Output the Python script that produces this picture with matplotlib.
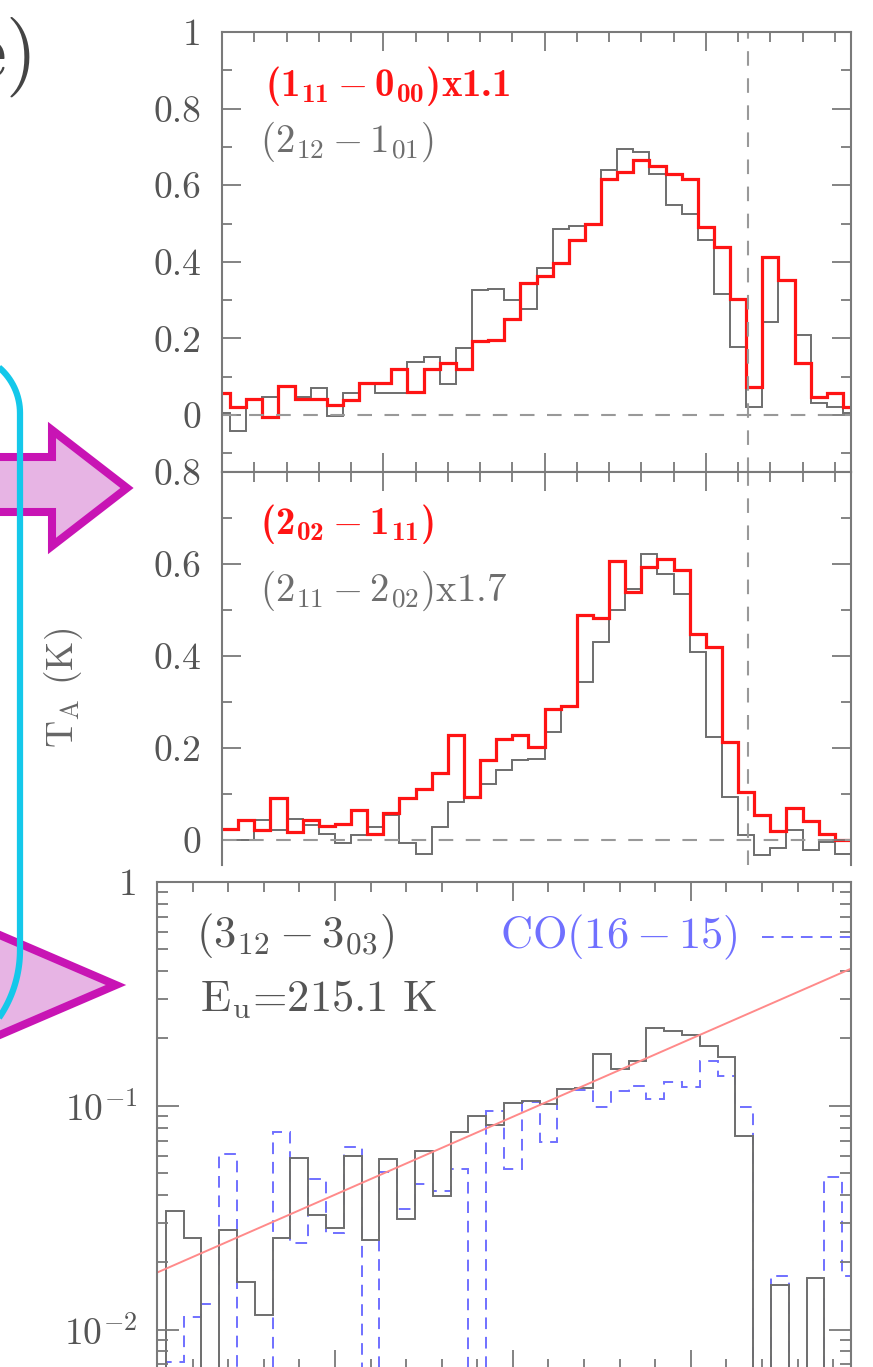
import numpy as np
import matplotlib.pyplot as plt
from matplotlib import ticker
from matplotlib.patches import Polygon

plt.rcParams['font.family'] = ['cmr10', 'DejaVu Serif']
plt.rcParams['mathtext.fontset'] = 'custom'
plt.rcParams['mathtext.rm'] = 'cmr10'
plt.rcParams['mathtext.it'] = 'cmmi10'
plt.rcParams['mathtext.bf'] = 'cmb10'
plt.rcParams['mathtext.fallback'] = 'cm'
plt.rcParams['axes.formatter.use_mathtext'] = True
plt.rcParams['axes.unicode_minus'] = False

# velocity channels in km/s (1 km/s wide)
edges_half = np.arange(-30.5, 9.6, 1.0)   # channels centred on integers
edges_int = np.arange(-30.0, 9.1, 1.0)    # channels centred on half integers
vlsr = 2.6

# top panel: o-H2O 1_11-0_00 (x1.1) and 2_12-1_01
t_111 = [0.057, 0.022, 0.041, -0.006, 0.076, 0.043, 0.043, 0.026, 0.039, 0.083,
         0.083, 0.119, 0.061, 0.119, 0.135, 0.119, 0.194, 0.197, 0.252, 0.345,
         0.363, 0.396, 0.458, 0.498, 0.617, 0.635, 0.667, 0.650, 0.630, 0.617,
         0.491, 0.439, 0.304, 0.074, 0.413, 0.352, 0.135, 0.048, 0.058, 0.022]
t_212 = [0.004, -0.043, 0.043, 0.048, 0.074, 0.048, 0.070, -0.004, 0.057, 0.083,
         0.057, 0.057, 0.139, 0.152, 0.081, 0.174, 0.326, 0.330, 0.300, 0.278,
         0.383, 0.487, 0.493, 0.498, 0.639, 0.696, 0.687, 0.630, 0.548, 0.526,
         0.457, 0.317, 0.178, 0.022, 0.243, 0.352, 0.209, 0.030, 0.022, 0.004]

# middle panel: p-H2O 2_02-1_11 and 2_11-2_02 (x1.7)
t_202 = [0.025, 0.043, 0.022, 0.091, 0.018, 0.043, 0.030, 0.036, 0.065, 0.014,
         0.058, 0.091, 0.112, 0.145, 0.228, 0.094, 0.175, 0.221, 0.228, 0.203,
         0.286, 0.291, 0.489, 0.482, 0.608, 0.539, 0.594, 0.612, 0.587, 0.449,
         0.420, 0.214, 0.105, 0.054, 0.020, 0.071, 0.042, 0.013, 0.001]
t_211 = [0.001, 0.000, 0.043, 0.023, 0.047, 0.033, 0.014, -0.007, 0.011, 0.029,
         0.054, -0.007, -0.029, 0.029, 0.083, 0.094, 0.123, 0.152, 0.174, 0.177,
         0.235, 0.290, 0.344, 0.431, 0.500, 0.547, 0.623, 0.579, 0.536, 0.409,
         0.224, 0.094, 0.011, -0.033, -0.018, 0.023, -0.022, -0.004, -0.029]

# bottom panel (log): p-H2O 3_12-3_03 and CO(16-15); 0.001 = below the plotted range
t_312 = [0.001, 0.0339, 0.0257, 0.001, 0.028, 0.0164, 0.0117, 0.0257, 0.0587, 0.0327,
         0.0285, 0.0597, 0.0253, 0.058, 0.0313, 0.063, 0.0396, 0.0766, 0.090, 0.082,
         0.103, 0.105, 0.102, 0.119, 0.120, 0.170, 0.146, 0.159, 0.223, 0.216,
         0.207, 0.185, 0.166, 0.0735, 0.001, 0.0159, 0.001, 0.017, 0.001, 0.001]
t_co = [0.001, 0.0072, 0.0114, 0.013, 0.0608, 0.001, 0.001, 0.0765, 0.0244, 0.047,
        0.027, 0.0658, 0.001, 0.0507, 0.0347, 0.0449, 0.0417, 0.0524, 0.001, 0.095,
        0.0524, 0.104, 0.0689, 0.119, 0.118, 0.099, 0.117, 0.123, 0.107, 0.128,
        0.122, 0.159, 0.136, 0.099, 0.001, 0.0173, 0.001, 0.001, 0.048, 0.0173]
fit_v = [-30, 9]
fit_t = [0.018, 0.41]

W, H = 873, 1367
fig = plt.figure(figsize=(W / 100, H / 100), dpi=100)


def box(l, t, r, b):
    return [l / W, 1 - b / H, (r - l) / W, (b - t) / H]


gray = '#6e6e6e'
red = '#ff1414'
blue = '#7070ff'
axc = '#7a7a7a'


def style(ax, pad=15):
    for s in ax.spines.values():
        s.set_color(axc)
        s.set_linewidth(1.5)
    ax.tick_params(which='both', direction='in', top=True, right=True,
                   color=axc, width=1.3, labelbottom=False, labelsize=27,
                   labelcolor='#555555', pad=pad)
    ax.tick_params(which='major', length=14)
    ax.tick_params(which='minor', length=7)
    ax.xaxis.set_major_locator(ticker.MultipleLocator(10))
    ax.xaxis.set_minor_locator(ticker.MultipleLocator(2))
    ax.set_xlim(-30, 9)


lin_fmt = ticker.FuncFormatter(lambda v, p: f'{round(v, 3):g}')

# top panel
ax1 = fig.add_axes(box(222, 32, 851, 472))
style(ax1)
ax1.axhline(0, color='#999999', lw=1.5, ls=(0, (7, 6)))
ax1.axvline(vlsr, color='#999999', lw=1.5, ls=(0, (7, 6)))
ax1.stairs(t_212, edges_half, baseline=None, color=gray, lw=1.4)
ax1.stairs(t_111, edges_half, baseline=None, color=red, lw=2.3)
ax1.set_ylim(-0.149, 1.0005)
ax1.yaxis.set_major_locator(ticker.MultipleLocator(0.2))
ax1.yaxis.set_minor_locator(ticker.MultipleLocator(0.1))
ax1.yaxis.set_major_formatter(lin_fmt)

# middle panel
ax2 = fig.add_axes(box(222, 472, 851, 865))
style(ax2)
ax2.spines['bottom'].set_visible(False)
ax2.tick_params(which='both', bottom=False)
ax2.axhline(0, color='#999999', lw=1.5, ls=(0, (7, 6)))
ax2.axvline(vlsr, color='#999999', lw=1.5, ls=(0, (7, 6)))
ax2.stairs(t_211, edges_int, baseline=None, color=gray, lw=1.4)
ax2.stairs(t_202, edges_int, baseline=None, color=red, lw=2.3)
ax2.set_ylim(-0.054, 0.8005)
ax2.yaxis.set_major_locator(ticker.MultipleLocator(0.2))
ax2.yaxis.set_minor_locator(ticker.MultipleLocator(0.1))
ax2.yaxis.set_major_formatter(lin_fmt)

# bottom panel, log scale
ax3 = fig.add_axes(box(157, 882, 851, 1369))
style(ax3, pad=14)
ax3.set_yscale('log')
ax3.stairs(t_co, edges_half, baseline=None, color=blue, lw=1.4, ls=(0, (6, 4)))
ax3.stairs(t_312, edges_half, baseline=None, color=gray, lw=1.4)
ax3.plot(fit_v, fit_t, color='#ff8a8a', lw=1.4)
ax3.set_ylim(0.00668, 1.0)
ax3.yaxis.set_major_locator(ticker.FixedLocator([0.01, 0.1, 1.0]))
ax3.yaxis.set_major_formatter(ticker.FixedFormatter([r'$10^{-2}$', r'$10^{-1}$', '1']))
ax3.yaxis.set_minor_locator(ticker.LogLocator(base=10, subs=np.arange(2, 10)))
ax3.yaxis.set_minor_formatter(ticker.NullFormatter())
ax3.tick_params(which='major', axis='y', length=16)
ax3.tick_params(which='minor', axis='y', length=8)

# overlay in pixel coordinates for labels and the sketch on the left
ov = fig.add_axes([0, 0, 1, 1], zorder=5)
ov.set_xlim(0, W)
ov.set_ylim(H, 0)
ov.axis('off')
ov.patch.set_alpha(0)

ov.text(265, 86, r'$\mathbf{(1_{11}-0_{00})x1.1}$', color=red, size=28, va='center')
ov.text(260, 142, r'$(2_{12}-1_{01})$', color=gray, size=28, va='center')
ov.text(260, 524, r'$\mathbf{(2_{02}-1_{11})}$', color=red, size=28, va='center')
ov.text(260, 591, r'$(2_{11}-2_{02})\mathrm{x}1.7$', color=gray, size=28, va='center')
ov.text(196, 936, r'$(3_{12}-3_{03})$', color='#555555', size=32, va='center')
ov.text(200, 1000, r'$\mathrm{E_u}$=215.1 K', color='#555555', size=32, va='center')
ov.text(500, 937, r'$\mathrm{CO(16-15)}$', color=blue, size=32, va='center')
ov.plot([762, 850], [937, 937], color=blue, lw=1.4, ls=(0, (6, 4)))
ov.text(64, 688, r'$\mathrm{T_A}$ (K)', rotation=90, size=27, color='#666666',
        ha='center', va='center')
ov.text(38, 57, 'e)', size=58, ha='right', va='center', color='#444444')
ov.text(133, 1385, '1', size=27, ha='right', va='center', color='#555555')

# cyan bracket
a1 = np.linspace(np.pi / 2, 0, 30)
a2 = np.linspace(0, 0.7, 30)
cx = np.concatenate([-40 + 60 * np.cos(a1), [20, 20], -100 + 120 * np.cos(a2)])
cy = np.concatenate([413 - 60 * np.sin(a1), [413, 950], 950 + 120 * np.sin(a2)])
ov.plot(cx, cy, color='#14c8ea', lw=4.5, solid_capstyle='butt')

# magenta arrows
fill = (206 / 255, 96 / 255, 198 / 255, 0.47)
edge = '#c814b4'
arrow1 = Polygon([(-20, 457), (52, 457), (52, 430), (127, 488), (52, 546),
                  (52, 512), (-20, 512)], closed=True, facecolor=fill,
                 edgecolor=edge, lw=5.8, joinstyle='miter')
arrow2 = Polygon([(-40, 918), (116, 985), (-40, 1052)], closed=True,
                 facecolor=fill, edgecolor=edge, lw=5.8, joinstyle='miter')
ov.add_patch(arrow1)
ov.add_patch(arrow2)

fig.savefig('out.png', dpi=100)
